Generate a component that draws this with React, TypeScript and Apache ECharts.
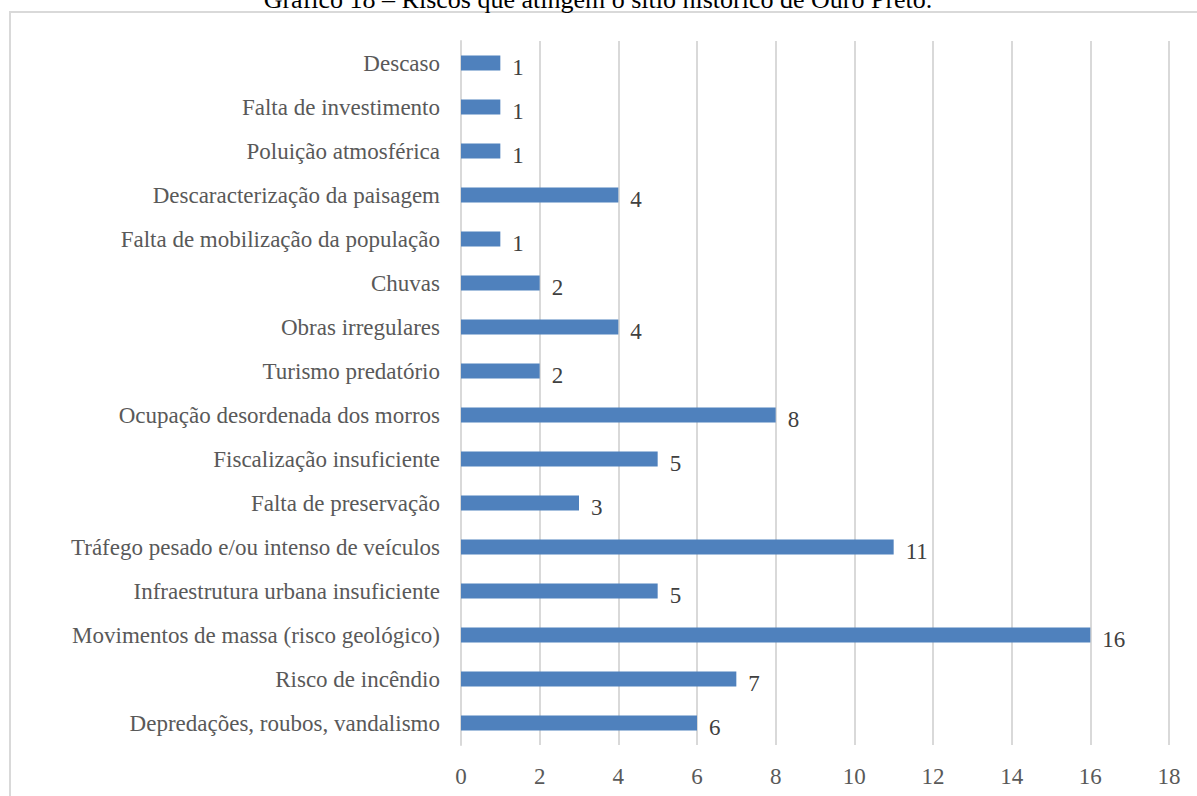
import React, { useEffect, useRef } from "react";
import * as echarts from "echarts";

const title = "Gráfico 18 – Riscos que atingem o sítio histórico de Ouro Preto.";
const categories = [
  "Descaso",
  "Falta de investimento",
  "Poluição atmosférica",
  "Descaracterização da paisagem",
  "Falta de mobilização da população",
  "Chuvas",
  "Obras irregulares",
  "Turismo predatório",
  "Ocupação desordenada dos morros",
  "Fiscalização insuficiente",
  "Falta de preservação",
  "Tráfego pesado e/ou intenso de veículos",
  "Infraestrutura urbana insuficiente",
  "Movimentos de massa (risco geológico)",
  "Risco de incêndio",
  "Depredações, roubos, vandalismo",
];
const values = [1, 1, 1, 4, 1, 2, 4, 2, 8, 5, 3, 11, 5, 16, 7, 6];
const xMin = 0;
const xMax = 18;
const xStep = 2;

export default function App() {
  const ref = useRef<HTMLDivElement>(null);
  useEffect(() => {
    if (!ref.current) return;
    const chart = echarts.init(ref.current, null, { renderer: "svg" });
    const font = "'Liberation Serif', 'Times New Roman', serif";
    chart.setOption({
      animation: false,
      backgroundColor: "#ffffff",
      graphic: [
        {
          type: "rect",
          shape: { x: 10, y: 12, width: 1200, height: 800 },
          style: { fill: "none", stroke: "#d9d9d9", lineWidth: 2 },
          silent: true,
        },
        {
          type: "text",
          x: 598,
          y: -14,
          style: {
            text: title,
            fill: "#000000",
            font: `26px ${font}`,
            textAlign: "center",
            textVerticalAlign: "top",
          },
        },
      ],
      grid: { left: 461, right: 28, top: 41, bottom: 51, containLabel: false },
      xAxis: {
        type: "value",
        min: xMin,
        max: xMax,
        interval: xStep,
        axisLine: { show: false },
        axisTick: { show: false },
        splitLine: { show: true, lineStyle: { color: "#d9d9d9", width: 2 } },
        axisLabel: { color: "#595959", fontFamily: font, fontSize: 23, margin: 20 },
      },
      yAxis: {
        type: "category",
        data: categories,
        inverse: true,
        axisLine: { show: true, lineStyle: { color: "#d9d9d9", width: 2 } },
        axisTick: { show: false },
        axisLabel: { color: "#595959", fontFamily: font, fontSize: 23, margin: 21 },
      },
      series: [
        {
          type: "bar",
          data: values,
          barWidth: 15,
          itemStyle: { color: "#4f81bd" },
          label: {
            show: true,
            position: "right",
            distance: 12,
            color: "#404040",
            fontFamily: font,
            fontSize: 23,
            offset: [0, 4],
          },
        },
      ],
    });
    return () => chart.dispose();
  }, []);
  return (
    <div
      ref={ref}
      style={{ position: "fixed", left: 0, top: 0, width: 1197, height: 796 }}
    />
  );
}
